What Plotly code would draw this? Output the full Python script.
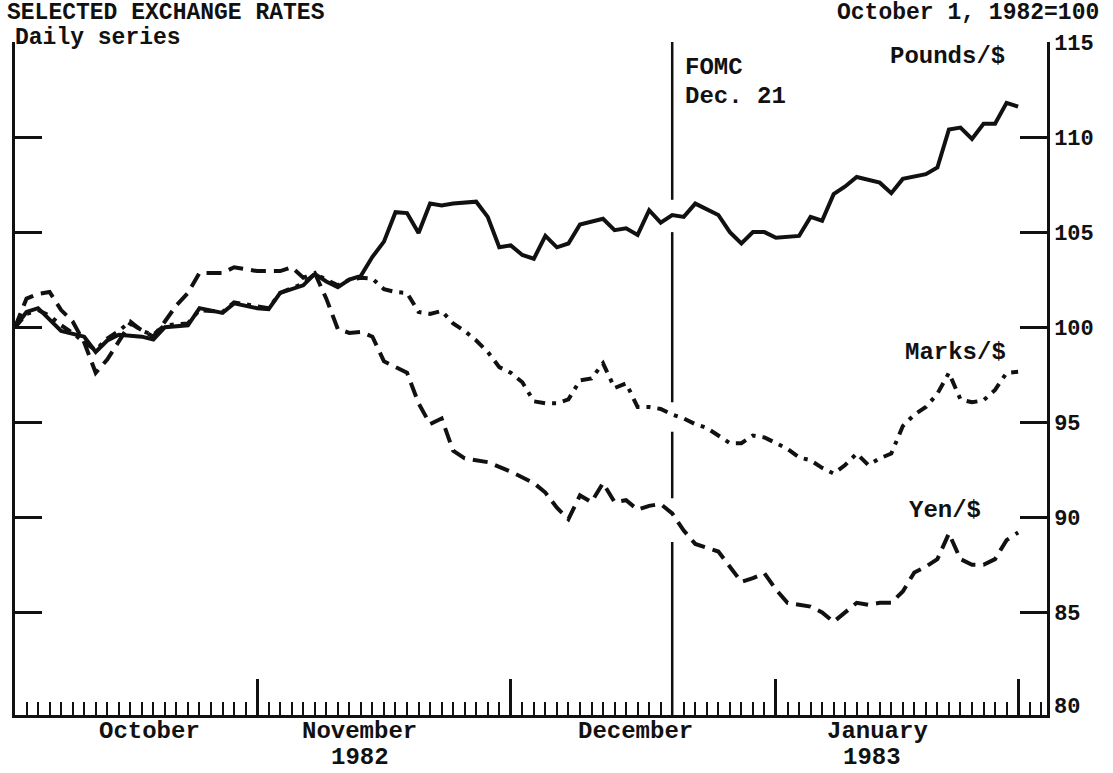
import plotly.graph_objects as go

# ---- data (x = business-day number counted from Oct 1, 1982 = 0) ----
pounds_day = [0, 1, 2, 4, 6, 7, 8, 9, 11, 12, 13, 15, 16, 18, 19, 21, 22, 23, 25, 26,
              27, 28, 29, 30, 31, 32, 33, 34, 35, 36, 37, 38, 40, 41, 42, 43, 44, 45, 46, 47,
              48, 49, 51, 52, 53, 54, 55, 56, 57, 58, 59, 61, 62, 63, 64, 65, 66, 68, 69, 70,
              71, 72, 73, 75, 76, 77, 79, 80, 81, 82, 83, 84, 85, 86, 87]
pounds = [100.0, 100.8, 101.0, 99.8, 99.5, 98.7, 99.3, 99.6, 99.5, 99.35, 100.0, 100.1, 101.0, 100.75, 101.25, 101.0, 100.95, 101.8, 102.2, 102.8,
          102.4, 102.1, 102.5, 102.7, 103.7, 104.5, 106.05, 106.0, 104.95, 106.5, 106.4, 106.5, 106.6, 105.8, 104.2, 104.3, 103.8, 103.6, 104.8, 104.2,
          104.4, 105.4, 105.7, 105.1, 105.2, 104.85, 106.15, 105.5, 105.9, 105.8, 106.5, 105.9, 105.0, 104.4, 105.0, 105.0, 104.7, 104.8, 105.8, 105.6,
          107.0, 107.4, 107.9, 107.6, 107.05, 107.8, 108.05, 108.4, 110.4, 110.5, 109.9, 110.7, 110.7, 111.8, 111.6]

marks_day = [0, 1, 2, 3, 4, 5, 6, 7, 8, 9, 10, 11, 12, 13, 15, 16, 18, 19, 21, 22,
             23, 25, 26, 27, 28, 29, 30, 31, 32, 33, 34, 35, 36, 37, 38, 39, 40, 41, 42, 43,
             44, 45, 46, 47, 48, 49, 50, 51, 52, 53, 54, 55, 56, 57, 58, 59, 60, 62, 63, 64,
             65, 67, 68, 69, 70, 71, 72, 73, 74, 75, 76, 77, 78, 79, 80, 81, 82, 83, 84, 85,
             86, 87]
marks = [100.0, 100.7, 100.9, 100.6, 100.1, 99.7, 99.2, 98.8, 99.4, 99.8, 100.3, 99.8, 99.6, 100.1, 100.2, 100.9, 100.8, 101.3, 101.1, 101.0,
         101.8, 102.3, 102.8, 102.5, 102.2, 102.5, 102.6, 102.55, 102.0, 101.85, 101.8, 100.8, 100.7, 100.85, 100.2, 99.8, 99.3, 98.7, 97.9, 97.6,
         97.1, 96.1, 96.0, 96.0, 96.2, 97.2, 97.3, 98.1, 96.8, 97.05, 95.8, 95.8, 95.7, 95.4, 95.2, 94.9, 94.7, 93.9, 93.9, 94.3,
         94.2, 93.6, 93.15, 93.0, 92.6, 92.3, 92.75, 93.35, 92.75, 93.1, 93.35, 94.8, 95.4, 95.8, 96.5, 97.6, 96.2, 96.05, 96.15, 96.7,
         97.6, 97.65]

yen_day = [0, 1, 2, 3, 4, 5, 6, 7, 8, 9, 10, 11, 12, 13, 14, 15, 16, 18, 19, 21,
           23, 24, 25, 26, 27, 28, 29, 30, 31, 32, 33, 34, 35, 36, 37, 38, 39, 41, 43, 44,
           45, 46, 47, 48, 49, 50, 51, 52, 53, 54, 55, 56, 57, 58, 59, 60, 61, 62, 63, 64,
           65, 66, 67, 69, 70, 71, 72, 73, 74, 75, 76, 77, 78, 79, 80, 81, 82, 83, 84, 85,
           86, 87]
yen = [100.0, 101.5, 101.75, 101.85, 100.9, 100.3, 99.2, 97.6, 98.3, 99.3, 100.2, 99.85, 99.5, 100.3, 101.15, 101.8, 102.85, 102.85, 103.15, 102.95,
       102.95, 103.15, 102.6, 102.85, 101.5, 99.9, 99.7, 99.75, 99.5, 98.2, 97.9, 97.6, 96.0, 94.9, 95.2, 93.5, 93.1, 92.9, 92.4, 92.1,
       91.8, 91.3, 90.5, 89.9, 91.15, 90.8, 91.8, 90.8, 90.9, 90.4, 90.6, 90.7, 90.2, 89.3, 88.6, 88.4, 88.2, 87.4, 86.6, 86.8,
       87.05, 86.2, 85.5, 85.3, 85.0, 84.5, 85.0, 85.5, 85.4, 85.5, 85.5, 86.1, 87.1, 87.4, 87.8, 89.15, 87.8, 87.5, 87.5, 87.8,
       88.8, 89.2]

month_start_day = [21, 43, 66, 87]          # Nov 1, Dec 1, Jan 3, Feb 1
month_labels = ["October", "November", "December", "January"]
month_label_day = [11.7, 29.9, 53.8, 74.8]
year_labels = ["1982", "1983"]
year_label_day = [29.9, 74.3]
fomc_day = 57                                # Dec 21
y_tick_vals = [85, 90, 95, 100, 105, 110, 115]

assert len(pounds_day) == len(pounds)
assert len(marks_day) == len(marks)
assert len(yen_day) == len(yen)

# ---- layout geometry (pixels) ----
W, H = 1113, 773
L, R, T, B = 15, 1047, 42, 715
X_MAX = (R - L) / 11.53
Y_MIN, Y_MAX = 79.6, 115


def px(x):
    return (x - L) / (R - L)


def py(y):
    return (B - y) / (B - T)


FONT = "Liberation Mono, Courier New, monospace"
INK = "#111111"
fnt = dict(family=FONT, size=24, color=INK, weight="bold")

fig = go.Figure()
fig.add_trace(go.Scatter(x=pounds_day, y=pounds, mode="lines",
                         line=dict(color=INK, width=4), name="Pounds/$"))
fig.add_trace(go.Scatter(x=marks_day, y=marks, mode="lines",
                         line=dict(color=INK, width=4, dash="11px,7px,4px,7px"), name="Marks/$"))
fig.add_trace(go.Scatter(x=yen_day, y=yen, mode="lines",
                         line=dict(color=INK, width=4, dash="15px,8px"), name="Yen/$"))

# FOMC vertical line (with the small breaks where the series cross it)
fomc_segments = [(Y_MIN, 88.7), (91.0, 94.5), (96.05, 105.0), (106.7, Y_MAX)]
for y0, y1 in fomc_segments:
    fig.add_shape(type="line", xref="x", yref="y", x0=fomc_day, x1=fomc_day, y0=y0, y1=y1,
                  line=dict(color=INK, width=2.5))

ann = []


def text(t, x, y, xanchor="left", xref="paper", yref="paper", size=24):
    f = dict(fnt)
    f["size"] = size
    ann.append(dict(text=t, x=x, y=y, xref=xref, yref=yref, xanchor=xanchor,
                    yanchor="middle", showarrow=False, font=f))


text("SELECTED EXCHANGE RATES", px(5), py(13), size=23)
text("Daily series", px(13), py(38), size=23)
text("October 1, 1982=100", px(1101), py(13), xanchor="right", size=23)
text("FOMC", px(683), py(68))
text("Dec. 21", px(683), py(96))
text("Pounds/$", px(888), py(56))
text("Marks/$", px(903), py(352))
text("Yen/$", px(907), py(510))
for lab, d in zip(month_labels, month_label_day):
    text(lab, d, py(732), xanchor="center", xref="x")
for lab, d in zip(year_labels, year_label_day):
    text(lab, d, py(757), xanchor="center", xref="x")
text("80", px(R + 5), 80, yref="y", size=22)

fig.update_layout(
    width=W, height=H,
    margin=dict(l=L, r=W - R, t=T, b=H - B, pad=0),
    paper_bgcolor="white", plot_bgcolor="white",
    showlegend=False,
    annotations=ann,
    xaxis=dict(range=[0, X_MAX], showgrid=False, zeroline=False,
               showline=True, linecolor=INK, linewidth=2.5,
               tickmode="array", tickvals=month_start_day, showticklabels=False,
               ticks="inside", ticklen=36, tickwidth=2.5, tickcolor=INK,
               minor=dict(tick0=0, dtick=1, ticks="inside", ticklen=13,
                          tickwidth=2, tickcolor=INK)),
    yaxis=dict(range=[Y_MIN, Y_MAX], side="right", showgrid=False, zeroline=False,
               showline=True, linecolor=INK, linewidth=2.5, mirror="ticks",
               tickmode="array", tickvals=y_tick_vals,
               ticks="inside", ticklen=27, tickwidth=2.5, tickcolor=INK,
               tickfont=dict(family=FONT, size=22, color=INK, weight="bold")),
)

fig.write_html(
    "out.html",
    config={"displayModeBar": False},
    post_script="document.body.style.margin='0';document.body.style.overflow='hidden';",
)
